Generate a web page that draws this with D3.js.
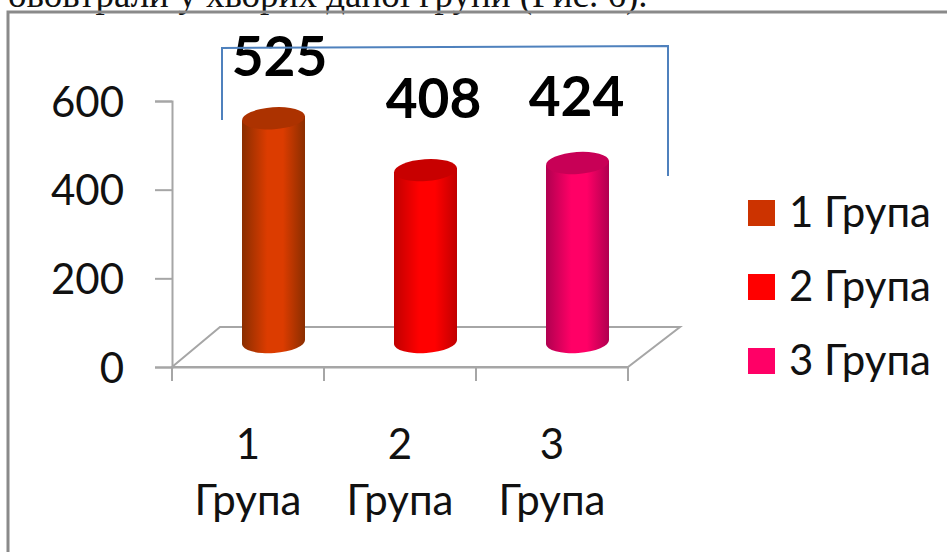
<!DOCTYPE html>
<html>
<head>
<meta charset="utf-8">
<script src="https://cdn.jsdelivr.net/npm/d3@7"></script>
<style>
  html, body { margin: 0; padding: 0; background: #fff; overflow: hidden; }
  svg { display: block; }
  text { font-family: Lato, "Noto Sans", sans-serif; fill: #111; }
</style>
</head>
<body>
<div id="chart"></div>
<script>
// chart data
var groups = ["1 Група", "2 Група", "3 Група"];
var values = [525, 408, 424];
var yTicks = [0, 200, 400, 600];
var edgeColors = ["#8a2e00", "#c00000", "#b00050"];
var midColors = ["#dc3c00", "#ff0000", "#ff0066"];
var capColors = ["#ac3200", "#c80000", "#c80056"];
var swatchColors = ["#cc3300", "#ff0000", "#ff0066"];

var svgWidth = 947;
var svgHeight = 552;

var svg = d3.select("#chart")
    .append("svg")
    .attr("width", svgWidth)
    .attr("height", svgHeight);

// plot box of the front plane, plus the offset of the back plane
var plot = {left: 172, right: 628, top: 101, bottom: 367};
var depth = {x: 48, y: 40};

var xScale = d3.scaleBand().domain(groups).range([plot.left, plot.right]);
var yScale = d3.scaleLinear().domain([0, 600]).range([plot.bottom, plot.top]);

// line of body text that runs above the figure
svg.append("text")
    .attr("x", 8)
    .attr("y", 7)
    .style("font-family", "'Liberation Serif', serif")
    .style("font-size", "37px")
    .text("ововтрали у хворих даної групи (Рис. 6).");

// figure frame, open past the right and bottom edges
svg.append("path")
    .attr("d", d3.line()([[8, svgHeight + 5], [8, 12], [svgWidth + 5, 12]]))
    .attr("fill", "none")
    .attr("stroke", "#8a8a8a")
    .attr("stroke-width", 3);

// floor
var floor = d3.path();
floor.moveTo(plot.left, plot.bottom);
floor.lineTo(plot.left + depth.x, plot.bottom - depth.y);
floor.lineTo(plot.right + depth.x + 4, plot.bottom - depth.y);
floor.lineTo(plot.right, plot.bottom);
floor.closePath();
svg.append("path")
    .attr("d", floor.toString())
    .attr("fill", "#fff")
    .attr("stroke", "#a6a6a6")
    .attr("stroke-width", 2);

// y axis
var yAxis = svg.append("g")
    .attr("transform", `translate(${plot.left}, 0)`)
    .call(d3.axisLeft(yScale).tickValues(yTicks).tickSize(17).tickPadding(31));
yAxis.selectAll("path, line").attr("stroke", "#a6a6a6").attr("stroke-width", 2);
yAxis.selectAll("text")
    .style("font-size", "42px")
    .attr("dy", "0.36em");

// x axis, labels on two lines under each group
var xAxis = svg.append("g")
    .attr("transform", `translate(0, ${plot.bottom})`)
    .call(d3.axisBottom(xScale).tickSize(0).tickFormat(""));
xAxis.select("path").attr("stroke", "#a6a6a6").attr("stroke-width", 2);

// tick marks sit between the groups
var tickXs = groups.map(d => xScale(d)).concat(plot.right);
svg.selectAll("line.xtick")
    .data(tickXs)
    .enter()
    .append("line")
    .attr("class", "xtick")
    .attr("x1", d => d)
    .attr("x2", d => d)
    .attr("y1", plot.bottom)
    .attr("y2", plot.bottom + 14)
    .attr("stroke", "#a6a6a6")
    .attr("stroke-width", 2);

var xLabels = svg.selectAll("text.xlabel")
    .data(groups)
    .enter()
    .append("text")
    .attr("class", "xlabel")
    .attr("text-anchor", "middle")
    .style("font-size", "42px");
xLabels.append("tspan")
    .attr("x", d => xScale(d) + xScale.step() / 2)
    .attr("y", 459)
    .text(d => d.split(" ")[0]);
xLabels.append("tspan")
    .attr("x", d => xScale(d) + xScale.step() / 2)
    .attr("y", 515)
    .text(d => d.split(" ")[1]);

// side shading of the cylinders
var defs = svg.append("defs");
groups.forEach(function(g, i) {
    var grad = defs.append("linearGradient").attr("id", "cyl" + i);
    grad.append("stop").attr("offset", "0%").attr("stop-color", edgeColors[i]);
    grad.append("stop").attr("offset", "40%").attr("stop-color", midColors[i]);
    grad.append("stop").attr("offset", "65%").attr("stop-color", midColors[i]);
    grad.append("stop").attr("offset", "100%").attr("stop-color", edgeColors[i]);
});

// cylinders
var barRadius = 31.5;
var capRadius = 11;
var baseY = 342;
var tilt = 4;
var barCenter = d => xScale(d) + xScale.step() / 2 + depth.x / 2 + 1.5;
var topY = i => yScale(values[i]) - depth.y / 2 + 4;
var lift = barRadius * Math.tan(tilt * Math.PI / 180);

var bars = svg.selectAll("g.bar")
    .data(groups)
    .enter()
    .append("g")
    .attr("class", "bar");

bars.append("path")
    .attr("d", function(d, i) {
        var cx = barCenter(d);
        var p = d3.path();
        p.moveTo(cx - barRadius, topY(i) + lift);
        p.lineTo(cx + barRadius, topY(i) - lift);
        p.lineTo(cx + barRadius, baseY - lift);
        return p.toString()
            + ` A ${barRadius} ${capRadius} ${-tilt} 0 1 ${cx - barRadius} ${baseY + lift} Z`;
    })
    .attr("fill", (d, i) => `url(#cyl${i})`);

bars.append("ellipse")
    .attr("rx", barRadius)
    .attr("ry", capRadius)
    .attr("transform", (d, i) => `translate(${barCenter(d)}, ${topY(i)}) rotate(${-tilt})`)
    .attr("fill", (d, i) => capColors[i]);

// value labels, nudged off the caps by hand
var labelNudge = [{x: 6, y: -42}, {x: 8, y: -52}, {x: -1, y: -47}];
bars.append("text")
    .attr("x", (d, i) => barCenter(d) + labelNudge[i].x)
    .attr("y", (d, i) => topY(i) + labelNudge[i].y)
    .attr("text-anchor", "middle")
    .style("font-size", "55px")
    .style("font-weight", "bold")
    .style("fill", "#000")
    .text((d, i) => values[i]);

// blue bracket over the three groups
svg.append("path")
    .attr("d", d3.line()([[222, 120], [222, 48], [668, 46], [668, 176]]))
    .attr("fill", "none")
    .attr("stroke", "#4f81bd")
    .attr("stroke-width", 2);

// legend
var legendY = d3.scalePoint().domain(groups).range([213, 361]);
var legend = svg.selectAll("g.legend")
    .data(groups)
    .enter()
    .append("g")
    .attr("class", "legend")
    .attr("transform", d => `translate(748, ${legendY(d)})`);
legend.append("rect")
    .attr("y", -13)
    .attr("width", 27)
    .attr("height", 26)
    .attr("fill", (d, i) => swatchColors[i]);
legend.append("text")
    .attr("x", 41)
    .attr("y", 14)
    .style("font-size", "42px")
    .text(d => d);
</script>
</body>
</html>
